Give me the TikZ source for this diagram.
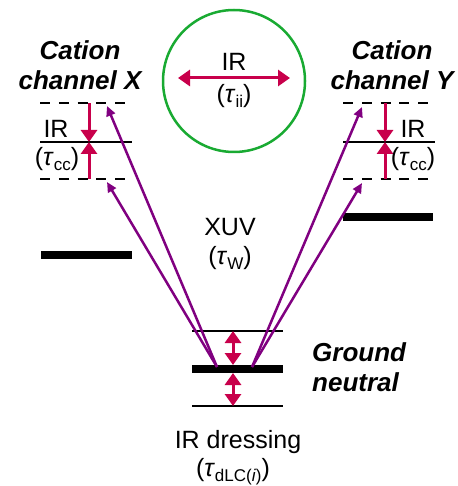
\documentclass[tikz,border=0pt]{standalone}
\usepackage{fontspec}
\setmainfont{Liberation Sans}
\usetikzlibrary{arrows.meta}

\definecolor{irred}{RGB}{200,0,75}
\definecolor{xuvpurple}{RGB}{128,0,128}
\definecolor{ringgreen}{RGB}{25,170,50}

\newcommand{\tausub}[1]{(\textit{τ}\raisebox{-0.35ex}{\fontsize{17}{17}\selectfont #1})}

\tikzset{
  lvl/.style={line width=2pt},
  lvldash/.style={line width=2pt, dash pattern=on 10pt off 8.75pt},
  bar/.style={line width=8pt},
  irarrow/.style={draw=irred, line width=3pt, -{Triangle[length=12pt,width=16pt]}},
  irboth/.style={draw=irred, line width=3pt, {Triangle[length=12pt,width=16pt]}-{Triangle[length=12pt,width=16pt]}},
  xuvarrow/.style={draw=xuvpurple, line width=2.5pt, -{Triangle[length=10pt,width=9pt]}},
  label/.style={font=\fontsize{25}{30}\selectfont, inner sep=0pt},
  title/.style={font=\fontsize{26}{30}\selectfont\bfseries\itshape, align=center, inner sep=0pt}
}

\begin{document}
\begin{tikzpicture} [x=1pt,y=-1pt]

\useasboundingbox (0,0) rectangle (457,486);

% IR between ions
\draw [ringgreen, line width=2.5pt] (234,81) circle (71);
\coordinate (iileft) at (178,78);
\coordinate (iiright) at (290,78);
\draw [irboth] (iileft) -- (iiright);
\node [label] (irii) at (234,62) {IR};
\node [label] (tauii) at (234,96) {\tausub{ii}};

% cation channel X
\node [title] (chanx) at (80,65) {Cation\\channel X};
\draw [lvldash] (40,103) -- (125,103);
\draw [lvl] (40,142) -- (132,142);
\draw [lvldash] (40,179) -- (125,179);
\draw [bar] (41,255) -- (132,255);
\coordinate (xtop) at (89,103);
\coordinate (xmid) at (89,142);
\coordinate (xbot) at (89,179);
\draw [irarrow] (xtop) -- (xmid);
\draw [irarrow] (xbot) -- (xmid);
\node [label] (irx) at (56,129) {IR};
\node [label] (taux) at (57,159) {\tausub{cc}};

% cation channel Y
\node [title] (chany) at (392,65) {Cation\\channel Y};
\draw [lvldash] (343,103) -- (428,103);
\draw [lvl] (343,142) -- (435,142);
\draw [lvldash] (343,179) -- (428,179);
\draw [bar] (343,217) -- (433,217);
\coordinate (ytop) at (385,103);
\coordinate (ymid) at (385,142);
\coordinate (ybot) at (385,179);
\draw [irarrow] (ytop) -- (ymid);
\draw [irarrow] (ybot) -- (ymid);
\node [label] (iry) at (413,129) {IR};
\node [label] (tauy) at (413,159) {\tausub{cc}};

% ground neutral with dressing
\draw [lvl] (192,331) -- (283,331);
\draw [bar] (192,369) -- (283,369);
\draw [lvl] (192,406) -- (283,406);
\coordinate (gup) at (233,331);
\coordinate (gbartop) at (233,365);
\coordinate (gbarbot) at (233,373);
\coordinate (gdown) at (233,406);
\draw [irboth] (gup) -- (gbartop);
\draw [irboth] (gbarbot) -- (gdown);
\node [title, align=left, anchor=west] (ground) at (312,367) {Ground\\neutral};
\node [label] (dress) at (238,442) {IR dressing};
\node [label] (taudress) at (233,472) {\tausub{dLC(\textit{i})}};

% XUV
\coordinate (xuvl) at (217,367);
\coordinate (xuvr) at (252,367);
\coordinate (xtopend) at (107,106);
\coordinate (xbotend) at (107,182);
\coordinate (ytopend) at (362,107);
\coordinate (ybotend) at (362,183);
\draw [xuvarrow] (xuvl) -- (xtopend);
\draw [xuvarrow] (xuvl) -- (xbotend);
\draw [xuvarrow] (xuvr) -- (ytopend);
\draw [xuvarrow] (xuvr) -- (ybotend);
\node [label] (xuv) at (230,227) {XUV};
\node [label] (tauw) at (230,258) {\tausub{W}};

\end{tikzpicture}
\end{document}
